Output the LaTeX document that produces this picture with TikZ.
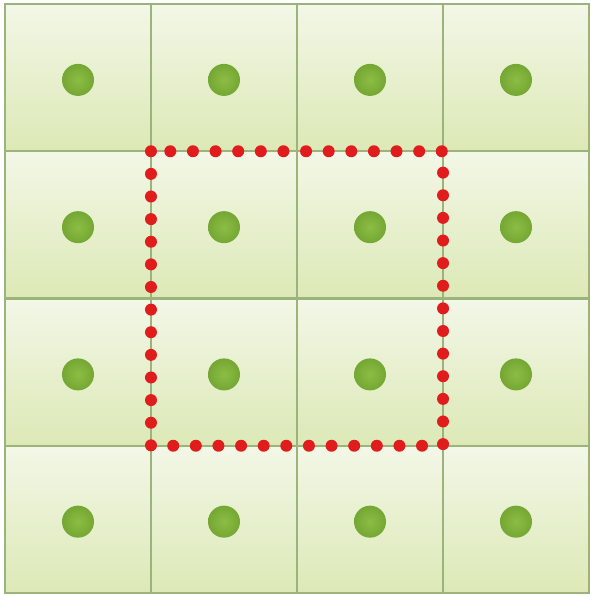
\documentclass[tikz,border=0pt]{standalone}
\usetikzlibrary{positioning}
\definecolor{celltop}{HTML}{F3F7E7}
\definecolor{cellbot}{HTML}{DCE9B6}
\definecolor{cellline}{HTML}{9DB37C}
\definecolor{dotgreen}{HTML}{74A733}
\definecolor{dotlight}{HTML}{8CBD45}
\definecolor{boxred}{HTML}{E01C1C}
\begin{document}
\begin{tikzpicture}[x=0.025cm,y=-0.025cm,
  cell/.style={draw=cellline, line width=0.06cm, top color=celltop, bottom color=cellbot,
    minimum width=3.65cm, minimum height=3.68cm, inner sep=0pt, outer sep=0pt},
  seed/.style={circle, inner color=dotlight, outer color=dotgreen, minimum size=0.8cm, inner sep=0pt}]
  \useasboundingbox (0,0) rectangle (590,596);
  % grid of cells, one seed in each
  \foreach \r in {1,...,4}
    \foreach \c in {1,...,4} {
      \node[cell] (c\r\c) at ({5+146*(\c-0.5)},{4+147.25*(\r-0.5)}) {};
      \node[seed, below=-0.35cm of c\r\c.center] (d\r\c) {};
    }
  % dotted window round the middle four
  \draw[boxred, line width=0.3cm, line cap=round, dash pattern=on 0pt off 0.5654cm]
    (c22.north west) rectangle (c33.south east);
\end{tikzpicture}
\end{document}
